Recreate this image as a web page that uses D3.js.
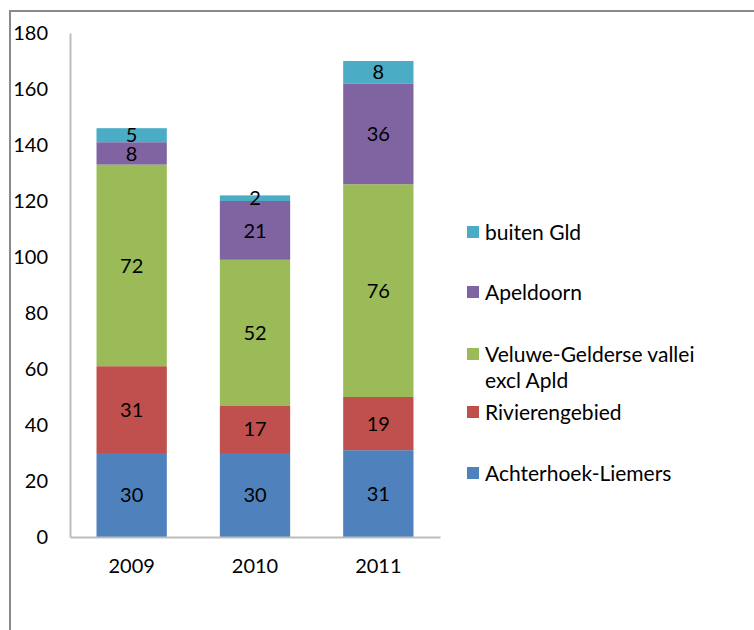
<!DOCTYPE html>
<html>
<head>
<meta charset="utf-8">
<script src="https://cdn.jsdelivr.net/npm/d3@7"></script>
<style>
  body { margin: 0; background: #fff; }
  svg text { font-family: Lato, "Open Sans", sans-serif; fill: #000; }
</style>
</head>
<body>
<div id="chart"></div>
<script>
const years = ["2009", "2010", "2011"];
const series = ["Achterhoek-Liemers", "Rivierengebied", "Veluwe-Gelderse vallei excl Apld", "Apeldoorn", "buiten Gld"];
const achterhoek = [30, 30, 31];
const rivieren = [31, 17, 19];
const veluwe = [72, 52, 76];
const apeldoorn = [8, 21, 36];
const buiten = [5, 2, 8];
const colors = ["#4f81bd", "#c0504d", "#9bbb59", "#8064a2", "#4bacc6"];
const yTicks = [0, 20, 40, 60, 80, 100, 120, 140, 160, 180];

const width = 754, height = 630;
const rows = years.map((y, i) => ({
    year: y,
    [series[0]]: achterhoek[i],
    [series[1]]: rivieren[i],
    [series[2]]: veluwe[i],
    [series[3]]: apeldoorn[i],
    [series[4]]: buiten[i]
}));
const stacked = d3.stack().keys(series)(rows);

const svg = d3.select("#chart").append("svg")
    .attr("width", width)
    .attr("height", height);

// outer frame
svg.append("rect")
    .attr("x", 10).attr("y", 11)
    .attr("width", 800).attr("height", 700)
    .attr("fill", "none")
    .attr("stroke", "#8a8a8a")
    .attr("stroke-width", 2);

const x = d3.scaleBand().domain(years).range([70, 440]).paddingInner(0.43).paddingOuter(0.215);
const y = d3.scaleLinear().domain([0, 180]).range([537, 33]);

// y axis
const yAxis = svg.append("g")
    .attr("transform", "translate(70,0)")
    .call(d3.axisLeft(y).tickValues(yTicks).tickSize(0).tickPadding(22));
yAxis.select(".domain").attr("stroke", "#bdbdbd").attr("stroke-width", 2);
yAxis.selectAll("text").style("font-size", "20px").attr("fill", "#000");

// bars
const layer = svg.append("g").selectAll("g")
    .data(stacked)
    .join("g")
    .attr("fill", (d, i) => colors[i]);

layer.selectAll("rect")
    .data(d => d)
    .join("rect")
    .attr("x", d => x(d.data.year))
    .attr("width", x.bandwidth())
    .attr("y", d => y(d[1]))
    .attr("height", d => y(d[0]) - y(d[1]));

layer.selectAll("text")
    .data(d => d.map(v => ({ v, key: d.key })))
    .join("text")
    .attr("x", d => x(d.v.data.year) + x.bandwidth() / 2)
    .attr("y", d => (y(d.v[0]) + y(d.v[1])) / 2)
    .attr("dy", "0.36em")
    .attr("text-anchor", "middle")
    .style("font-size", "20px")
    .text(d => d.v.data[d.key]);

// x axis
const xAxis = svg.append("g")
    .attr("transform", "translate(0,537)")
    .call(d3.axisBottom(x).tickSize(0).tickPadding(22));
xAxis.select(".domain").attr("stroke", "#bdbdbd").attr("stroke-width", 2);
xAxis.selectAll("text").style("font-size", "20px").attr("fill", "#000");

// legend
const legendY = [232, 292, 354, 412, 473];
const legendItems = series.slice().reverse();
const legend = svg.append("g").selectAll("g")
    .data(legendItems)
    .join("g")
    .attr("transform", (d, i) => `translate(467,${legendY[i]})`);

legend.append("rect")
    .attr("x", 0).attr("y", -6)
    .attr("width", 12).attr("height", 12)
    .attr("fill", d => colors[series.indexOf(d)]);

legend.append("text")
    .attr("x", 18)
    .attr("dy", "0.36em")
    .style("font-size", "21px")
    .each(function(d) {
        const t = d3.select(this);
        if (d.startsWith("Veluwe")) {
            t.append("tspan").attr("x", 18).text("Veluwe-Gelderse vallei");
            t.append("tspan").attr("x", 18).attr("dy", 26).text("excl Apld");
        } else {
            t.text(d);
        }
    });
</script>
</body>
</html>
